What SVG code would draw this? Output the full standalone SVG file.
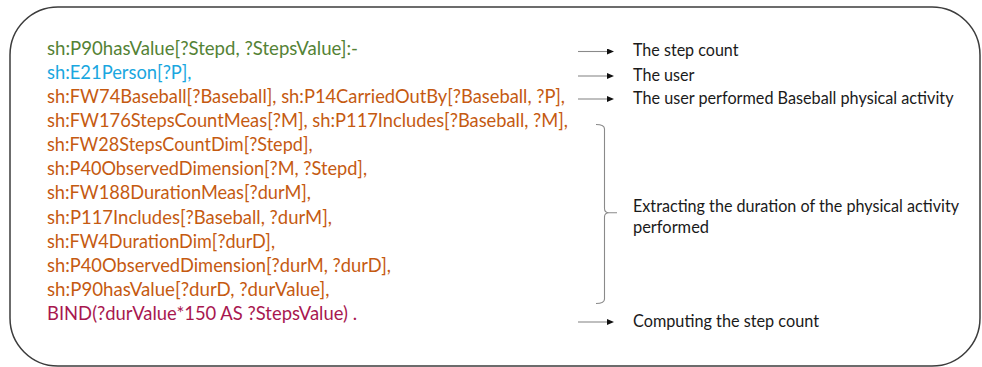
<svg xmlns="http://www.w3.org/2000/svg" width="982" height="367" viewBox="0 0 982 367">
  <style>
    .frame { fill: #ffffff; stroke: #3c3c3c; stroke-width: 1.5; }
    .code { font-family: Lato, "Open Sans", "Liberation Sans", sans-serif; font-size: 19.2px; }
    .head { fill: #548235; }
    .person { fill: #1aa7e0; }
    .atom { fill: #c55a11; }
    .bind { fill: #a8174f; }
    .note { font-family: Lato, "Open Sans", "Liberation Sans", sans-serif; font-size: 16.8px; fill: #1a1a1a; }
    .link { stroke: #8a8a8a; stroke-width: 1.1; fill: none; }
    .brace { stroke: #8a8a8a; stroke-width: 1.1; fill: none; }
  </style>
  <defs>
    <marker id="head" markerUnits="userSpaceOnUse" markerWidth="7" markerHeight="6" refX="1" refY="3" orient="auto">
      <path d="M0,0 L7,3 L0,6 Z" fill="#111111"/>
    </marker>
  </defs>

  <!-- rounded panel -->
  <rect id="panel" class="frame" x="10" y="7" width="970" height="359" rx="48" ry="48"/>

  <!-- rule: head and body atoms -->
  <g id="rule" class="code">
    <text class="head" x="47" y="54.5" textLength="311" lengthAdjust="spacingAndGlyphs">sh:P90hasValue[?Stepd, ?StepsValue]:-</text>
    <text class="person" x="47" y="78.6" textLength="144.5" lengthAdjust="spacingAndGlyphs">sh:E21Person[?P],</text>
    <text class="atom" x="47" y="102.8" textLength="518" lengthAdjust="spacingAndGlyphs">sh:FW74Baseball[?Baseball], sh:P14CarriedOutBy[?Baseball, ?P],</text>
    <text class="atom" x="47" y="126.9" textLength="521" lengthAdjust="spacingAndGlyphs">sh:FW176StepsCountMeas[?M], sh:P117Includes[?Baseball, ?M],</text>
    <text class="atom" x="47" y="151.1" textLength="265.5" lengthAdjust="spacingAndGlyphs">sh:FW28StepsCountDim[?Stepd],</text>
    <text class="atom" x="47" y="175.2" textLength="320" lengthAdjust="spacingAndGlyphs">sh:P40ObservedDimension[?M, ?Stepd],</text>
    <text class="atom" x="47" y="199.4" textLength="264" lengthAdjust="spacingAndGlyphs">sh:FW188DurationMeas[?durM],</text>
    <text class="atom" x="47" y="223.5" textLength="285" lengthAdjust="spacingAndGlyphs">sh:P117Includes[?Baseball, ?durM],</text>
    <text class="atom" x="47" y="247.7" textLength="228" lengthAdjust="spacingAndGlyphs">sh:FW4DurationDim[?durD],</text>
    <text class="atom" x="47" y="271.8" textLength="344" lengthAdjust="spacingAndGlyphs">sh:P40ObservedDimension[?durM, ?durD],</text>
    <text class="atom" x="47" y="296" textLength="282.5" lengthAdjust="spacingAndGlyphs">sh:P90hasValue[?durD, ?durValue],</text>
    <text class="bind" x="47" y="320.1" textLength="310" lengthAdjust="spacingAndGlyphs">BIND(?durValue*150 AS ?StepsValue) .</text>
  </g>

  <!-- explanations on the right -->
  <g id="note-step-count" class="note">
    <text x="633" y="56" textLength="105.5" lengthAdjust="spacingAndGlyphs">The step count</text>
  </g>
  <g id="note-user" class="note">
    <text x="633" y="80.5" textLength="61.5" lengthAdjust="spacingAndGlyphs">The user</text>
  </g>
  <g id="note-activity" class="note">
    <text x="633" y="104" textLength="320.5" lengthAdjust="spacingAndGlyphs">The user performed Baseball physical activity</text>
  </g>
  <g id="note-duration" class="note">
    <text x="633" y="212" textLength="326" lengthAdjust="spacingAndGlyphs">Extracting the duration of the physical activity</text>
    <text x="633" y="233" textLength="76" lengthAdjust="spacingAndGlyphs">performed</text>
  </g>
  <g id="note-compute" class="note">
    <text x="633" y="327" textLength="186" lengthAdjust="spacingAndGlyphs">Computing the step count</text>
  </g>

  <!-- arrows and brace -->
  <g id="connectors">
    <line class="link" x1="578" y1="51.5" x2="608" y2="51.5" marker-end="url(#head)"/>
    <line class="link" x1="578" y1="76" x2="608" y2="76" marker-end="url(#head)"/>
    <line class="link" x1="578" y1="99" x2="608" y2="99" marker-end="url(#head)"/>
    <path class="brace" d="M596,124.5 Q604.5,124.5 604.5,129 V208.5 Q604.5,212.7 609,212.7 H617 M609,212.7 Q604.5,212.7 604.5,217 V299 Q604.5,303.5 596,303.5"/>
    <line class="link" x1="578" y1="322" x2="608" y2="322" marker-end="url(#head)"/>
  </g>
</svg>
